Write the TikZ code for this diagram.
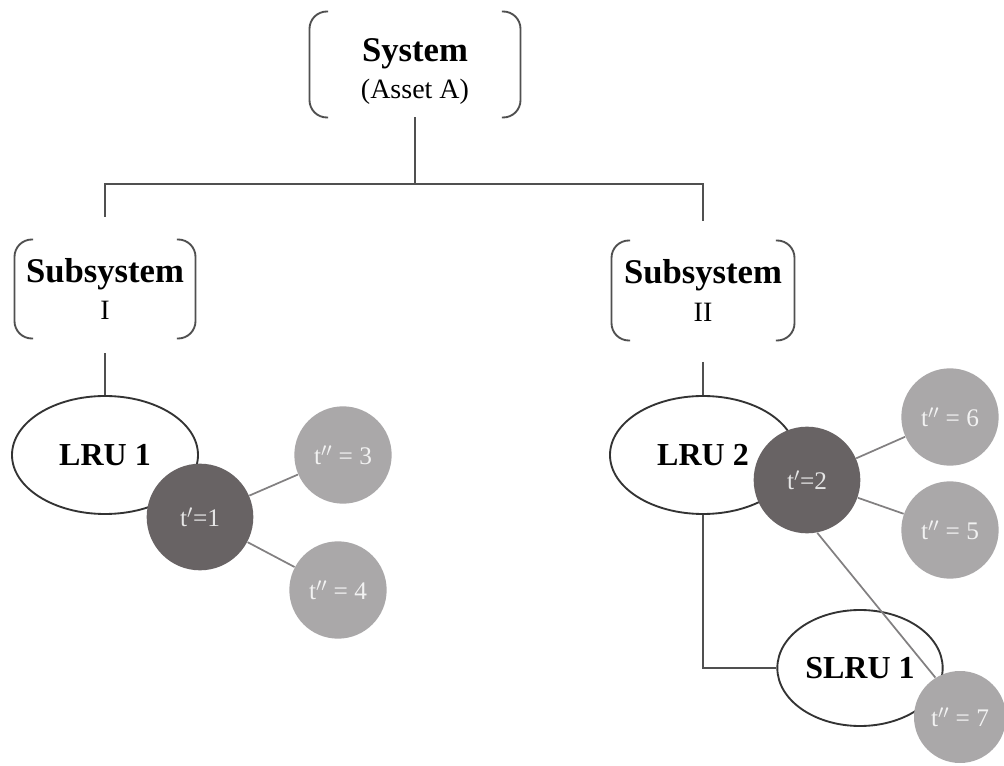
\documentclass[tikz,border=0pt]{standalone}
\usepackage{fontspec}
\setmainfont{Liberation Serif}
\usetikzlibrary{shapes.geometric}

\definecolor{darkdot}{RGB}{104,99,100}
\definecolor{lightdot}{RGB}{170,168,169}
\definecolor{linegray}{RGB}{80,80,80}
\definecolor{spokegray}{RGB}{130,128,129}

\tikzset{every picture/.style={line width=0.75pt}}
\tikzset{
  bracketbox/.style={inner sep=0pt, align=center, font=\fontsize{26}{28}\selectfont\bfseries},
  bracketline/.style={draw=linegray, line width=1.4pt, rounded corners=13pt},
  conn/.style={draw=linegray, line width=1.8pt},
  spoke/.style={draw=spokegray, line width=1.3pt},
  lru/.style={ellipse, draw=black!80, line width=1.4pt, fill=white, inner sep=0pt,
    font=\fontsize{24}{28}\selectfont\bfseries},
  tfirst/.style={circle, fill=darkdot, minimum size=80pt, inner sep=0pt,
    text=black!10, font=\fontsize{19}{22}\selectfont},
  tsecond/.style={circle, fill=lightdot, minimum size=73pt, inner sep=0pt,
    text=black!5, font=\fontsize{19}{22}\selectfont}
}

% round brackets on both sides of a node
\newcommand{\brackets}[1]{%
  \draw[bracketline] ([xshift=14pt]#1.north west) -- (#1.north west) -- (#1.south west) -- ([xshift=14pt]#1.south west);
  \draw[bracketline] ([xshift=-14pt]#1.north east) -- (#1.north east) -- (#1.south east) -- ([xshift=-14pt]#1.south east);}

\begin{document}
\begin{tikzpicture}[x=0.75pt,y=0.75pt,yscale=-1,xscale=1]
\useasboundingbox (0,0) rectangle (1004,766);

% System and subsystems
\node[bracketbox, minimum width=157.5pt, minimum height=78.75pt] (sys) at (415,64.5)
  {\rule{0pt}{6pt}\\[-6pt]System\\{\fontsize{21}{24}\mdseries\selectfont (Asset A)}};
\node[bracketbox, minimum width=135pt, minimum height=73.5pt] (sub1) at (105,289)
  {Subsystem\\{\fontsize{21}{24}\mdseries\selectfont I}};
\node[bracketbox, minimum width=136.5pt, minimum height=74.25pt] (sub2) at (703,290.5)
  {Subsystem\\{\fontsize{21}{24}\mdseries\selectfont II}};
\brackets{sys}
\brackets{sub1}
\brackets{sub2}

% tree lines
\coordinate (bus) at (415,184);
\coordinate (j1) at (105,217);
\coordinate (j2) at (703,221);
\draw[conn] (sys.south) -- (bus);
\draw[conn] (j1) |- (bus) -| (j2);

% LRUs
\node[lru, minimum width=139.5pt, minimum height=88.5pt] (lru1) at (105,455) {LRU 1};
\node[lru, minimum width=139.5pt, minimum height=88.5pt] (lru2) at (703,455) {LRU 2};
\node[lru, minimum width=124pt, minimum height=87pt] (slru) at (860,668) {SLRU 1};

\draw[conn] ([yshift=11pt]sub1.south) -- (lru1.north);
\draw[conn] ([yshift=16pt]sub2.south) -- (lru2.north);
\draw[conn] (lru2.south) |- (slru.west);

% times
\node[tfirst] (t1) at (200,517) {t$'$=1};
\node[tfirst] (t2) at (807,480) {t$'$=2};
\node[tsecond] (t3) at (343,455) {t$''$ = 3};
\node[tsecond] (t4) at (338,590) {t$''$ = 4};
\node[tsecond] (t6) at (950,417) {t$''$ = 6};
\node[tsecond] (t5) at (950,530) {t$''$ = 5};
\node[tsecond, minimum size=69pt] (t7) at (960,717) {t$''$ = 7};

\draw[spoke] (t1) -- (t3);
\draw[spoke] (t1) -- (t4);
\draw[spoke] (t2) -- (t6);
\draw[spoke] (t2) -- (t5);
\draw[spoke] (t2.-79) -- (t7.122);

\end{tikzpicture}
\end{document}
